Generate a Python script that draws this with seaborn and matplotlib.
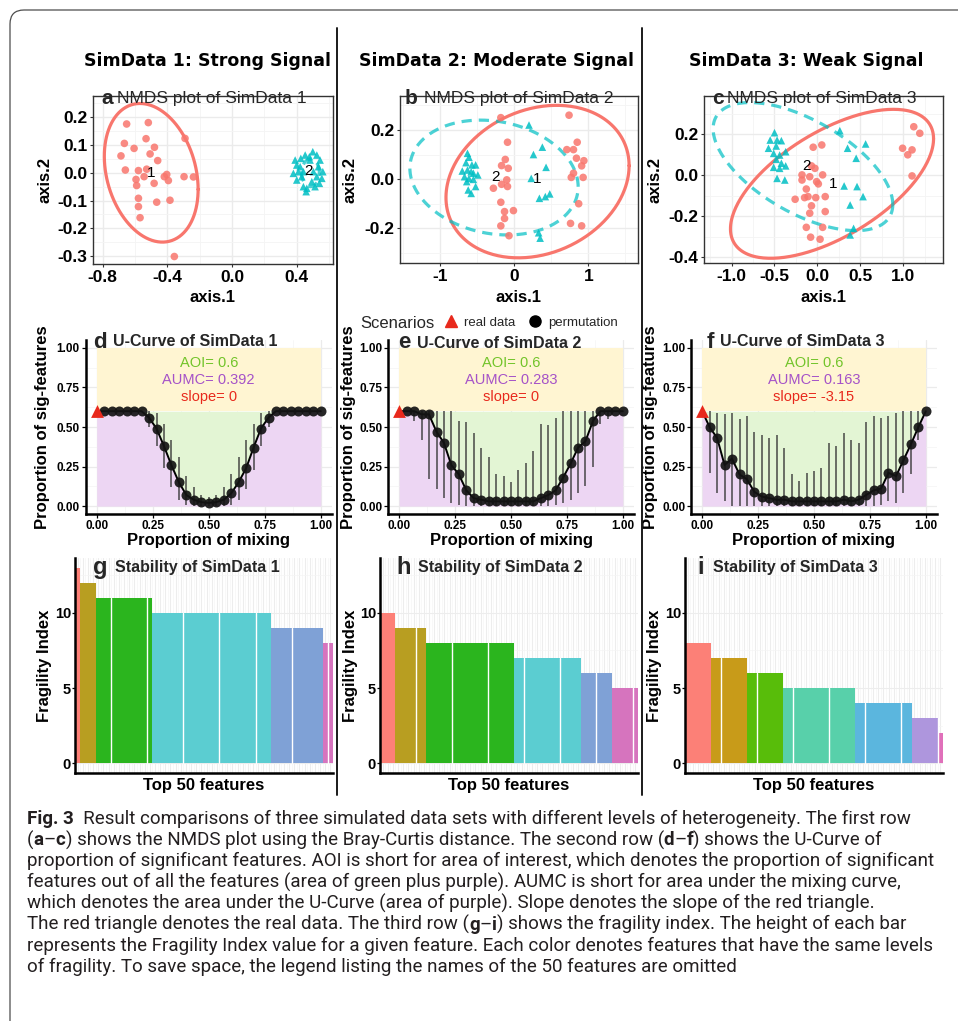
import numpy as np
import pandas as pd
import seaborn as sns
import matplotlib
matplotlib.use("Agg")
import matplotlib.pyplot as plt
from matplotlib.lines import Line2D
from matplotlib.patches import FancyBboxPatch
from matplotlib.ticker import AutoMinorLocator
from matplotlib import font_manager as fm

# ---------------------------------------------------------------- data
# Row 1: NMDS coordinates (group 1 = circles, group 2 = triangles)
A1_X = [-0.652, -0.518, -0.291, -0.666, -0.532, -0.606, -0.480, -0.507, -0.687, -0.460,
        -0.660, -0.579, -0.528, -0.544, -0.594, -0.404, -0.419, -0.394, -0.297, -0.239,
        -0.590, -0.482, -0.579, -0.466, -0.384, -0.579, -0.569, -0.357]
A1_Y = [0.176, 0.181, 0.124, 0.106, 0.123, 0.088, 0.092, 0.068, 0.061, 0.044,
        0.010, 0.008, 0.013, -0.014, -0.024, -0.006, -0.014, -0.028, -0.014, -0.015,
        -0.046, -0.038, -0.092, -0.106, -0.099, -0.122, -0.162, -0.302]
A2_X = [0.499, 0.452, 0.524, 0.425, 0.544, 0.400, 0.482, 0.410, 0.561, 0.379,
        0.431, 0.524, 0.400, 0.493, 0.555, 0.441, 0.462, 0.513, 0.458, 0.478,
        0.421, 0.534, 0.503, 0.441, 0.540, 0.390]
A2_Y = [0.076, 0.064, 0.064, 0.052, 0.046, 0.028, 0.046, 0.004, 0.004, -0.002,
        -0.014, -0.014, -0.026, -0.032, -0.020, -0.050, -0.056, -0.050, -0.068, 0.058,
        0.022, 0.022, 0.004, 0.004, -0.038, 0.046]
B1_X = [-0.18, 0.74, -0.09, 0.85, 0.71, 0.80, -0.12, -0.17, -0.08, 0.84, 0.94, 0.91, 0.80, 0.77,
        0.93, -0.10, -0.17, -0.09, -0.28, -0.18, -0.01, -0.13, -0.13, -0.18, 0.87, 0.76, 0.91, -0.07]
B1_Y = [0.25, 0.26, 0.15, 0.15, 0.12, 0.12, 0.08, 0.055, 0.044, 0.085, 0.075, 0.054, 0.024, 0.007,
        0.007, -0.003, -0.021, -0.03, -0.037, -0.094, -0.128, -0.132, -0.16, -0.19, -0.10, -0.18, -0.19, -0.23]
B2_X = [0.20, 0.38, 0.26, 0.43, -0.63, -0.61, -0.65, -0.57, -0.52, -0.70, -0.63, -0.58, -0.55, -0.49,
        -0.67, -0.61, -0.55, -0.64, -0.52, -0.62, -0.58, 0.23, 0.34, 0.42, 0.48, 0.33, 0.35]
B2_Y = [0.22, 0.13, 0.10, 0.048, 0.105, 0.089, 0.067, 0.058, 0.058, 0.033, 0.037, 0.03, 0.024, 0.017,
        0.01, 0.003, -0.001, -0.01, -0.03, -0.044, -0.058, 0.003, -0.078, -0.071, -0.06, -0.218, -0.24]
C1_X = [1.12, 1.19, 0.99, 1.10, 1.05, 1.10, -0.05, 0.05, -0.07, -0.03, -0.18, -0.18, -0.09, 0.06, -0.01,
        0.01, -0.13, -0.26, -0.15, -0.11, -0.02, 0.09, -0.07, -0.09, 0.09, -0.13, 0.06, -0.08, 0.03]
C1_Y = [0.237, 0.205, 0.132, 0.124, 0.10, -0.003, 0.137, 0.148, 0.046, 0.034, 0.002, -0.023, -0.007, 0.002,
        -0.031, -0.042, -0.067, -0.117, -0.109, -0.104, -0.109, -0.104, -0.149, -0.185, -0.177, -0.254,
        -0.254, -0.302, -0.312]
C2_X = [-0.50, -0.55, -0.47, -0.42, -0.57, -0.48, -0.37, -0.51, -0.44, -0.48, -0.42, -0.37, -0.51,
        -0.44, -0.47, -0.38, 0.26, 0.56, 0.35, 0.45, 0.31, 0.46, 0.53, 0.38, 0.42, 0.38]
C2_Y = [0.208, 0.172, 0.172, 0.169, 0.132, 0.143, 0.115, 0.107, 0.099, 0.078, 0.059, 0.046, 0.039,
        0.034, -0.015, -0.023, 0.218, 0.153, 0.132, 0.083, -0.052, -0.055, -0.104, -0.145, -0.259, -0.291]
# 95% ellipses: centre x, centre y, var x, var y, cov xy
ELL_A1 = [-0.500, 0.000, 0.0841, 0.0625, -0.0173]
ELL_A2 = [0.485, 0.000, 0.0030, 0.0025, 0.0]
ELL_B1 = [0.315, -0.010, 1.525, 0.0961, 0.080]
ELL_B2 = [-0.272, 0.0065, 1.288, 0.0545, -0.0426]
ELL_C1 = [0.169, -0.0415, 1.395, 0.1321, 0.2595]
ELL_C2 = [-0.169, 0.0425, 1.092, 0.0977, -0.193]

# Row 2: U-curves
MIX = [0.033, 0.067, 0.100, 0.133, 0.167, 0.200, 0.233, 0.267, 0.300, 0.333,
       0.367, 0.400, 0.433, 0.467, 0.500, 0.533, 0.567, 0.600, 0.633, 0.667,
       0.700, 0.733, 0.767, 0.800, 0.833, 0.867, 0.900, 0.933, 0.967, 1.000]
REAL_X = 0.0
AOI = [0.6, 0.6, 0.6]
AUMC = ["0.392", "0.283", "0.163"]
SLOPE = ["0", "0", "-3.15"]
D_Y = [0.6, 0.6, 0.6, 0.6, 0.6, 0.6, 0.56, 0.49, 0.38, 0.26, 0.15, 0.07, 0.04, 0.025, 0.02,
       0.025, 0.04, 0.08, 0.15, 0.24, 0.37, 0.49, 0.56, 0.6, 0.6, 0.6, 0.6, 0.6, 0.6, 0.6]
D_LO = [0.6, 0.6, 0.6, 0.6, 0.6, 0.6, 0.50, 0.38, 0.24, 0.12, 0.04, 0.01, 0.0, 0.0, 0.0,
        0.0, 0.0, 0.01, 0.04, 0.11, 0.23, 0.38, 0.50, 0.6, 0.6, 0.6, 0.6, 0.6, 0.6, 0.6]
D_HI = [0.6, 0.6, 0.6, 0.6, 0.6, 0.6, 0.60, 0.59, 0.52, 0.42, 0.31, 0.19, 0.12, 0.07, 0.06,
        0.07, 0.12, 0.20, 0.31, 0.42, 0.52, 0.59, 0.60, 0.6, 0.6, 0.6, 0.6, 0.6, 0.6, 0.6]
E_Y = [0.6, 0.6, 0.58, 0.58, 0.47, 0.40, 0.26, 0.20, 0.10, 0.05, 0.04, 0.03, 0.03, 0.03, 0.03,
       0.03, 0.03, 0.03, 0.05, 0.07, 0.10, 0.18, 0.27, 0.37, 0.41, 0.54, 0.6, 0.6, 0.6, 0.6]
E_LO = [0.6, 0.54, 0.42, 0.17, 0.11, 0.05, 0.02, 0.01, 0.0, 0.0, 0.0, 0.0, 0.0, 0.0, 0.0,
        0.0, 0.0, 0.0, 0.0, 0.0, 0.01, 0.02, 0.04, 0.08, 0.13, 0.25, 0.52, 0.55, 0.6, 0.6]
E_HI = [0.6, 0.6, 0.6, 0.6, 0.6, 0.6, 0.6, 0.54, 0.53, 0.46, 0.37, 0.31, 0.20, 0.19, 0.15,
        0.23, 0.27, 0.35, 0.52, 0.51, 0.56, 0.6, 0.6, 0.6, 0.6, 0.6, 0.6, 0.6, 0.6, 0.6]
F_Y = [0.50, 0.43, 0.26, 0.30, 0.20, 0.17, 0.09, 0.06, 0.05, 0.04, 0.04, 0.03, 0.03, 0.03, 0.03,
       0.03, 0.03, 0.03, 0.04, 0.03, 0.04, 0.07, 0.10, 0.11, 0.21, 0.19, 0.29, 0.39, 0.50, 0.60]
F_LO = [0.21, 0.08, 0.03, 0.0, 0.0, 0.0, 0.0, 0.0, 0.0, 0.0, 0.0, 0.0, 0.0, 0.0, 0.0,
        0.0, 0.0, 0.0, 0.0, 0.0, 0.0, 0.0, 0.0, 0.01, 0.03, 0.02, 0.08, 0.20, 0.42, 0.6]
F_HI = [0.6, 0.59, 0.58, 0.59, 0.55, 0.57, 0.47, 0.45, 0.43, 0.45, 0.37, 0.20, 0.16, 0.21, 0.22,
        0.24, 0.40, 0.38, 0.46, 0.42, 0.40, 0.53, 0.57, 0.56, 0.57, 0.59, 0.6, 0.6, 0.6, 0.6]

# Row 3: fragility index levels and how many of the top 50 features have each
G_FI = [13, 12, 11, 10, 9, 8]
G_N = [1, 3, 11, 23, 10, 2]
H_FI = [10, 9, 8, 7, 6, 5]
H_N = [3, 6, 17, 13, 6, 5]
I_FI = [8, 7, 6, 5, 4, 3, 2]
I_N = [5, 7, 7, 14, 11, 5, 1]

HEADERS = ["SimData 1: Strong Signal", "SimData 2: Moderate Signal", "SimData 3: Weak Signal"]

CAPTION = [
    [("Fig. 3", True), ("  Result comparisons of three simulated data sets with different levels of heterogeneity. The first row", False)],
    [("(", False), ("a", True), ("\u2013", False), ("c", True),
     (") shows the NMDS plot using the Bray-Curtis distance. The second row (", False),
     ("d", True), ("\u2013", False), ("f", True), (") shows the U-Curve of", False)],
    [("proportion of significant features. AOI is short for area of interest, which denotes the proportion of significant", False)],
    [("features out of all the features (area of green plus purple). AUMC is short for area under the mixing curve,", False)],
    [("which denotes the area under the U-Curve (area of purple). Slope denotes the slope of the red triangle.", False)],
    [("The red triangle denotes the real data. The third row (", False), ("g", True), ("\u2013", False), ("i", True),
     (") shows the fragility index. The height of each bar", False)],
    [("represents the Fragility Index value for a given feature. Each color denotes features that have the same levels", False)],
    [("of fragility. To save space, the legend listing the names of the 50 features are omitted", False)],
]
# right end (px) of each caption line in the reference, used only to size the font
CAP_ENDS = [922, 892, 947, 903, 898, 919, 942, 740]

# ---------------------------------------------------------------- style
RED = "#F8766D"
CYAN = "#00BFC4"
YELLOW = "#FFF5D2"
GREEN = "#E3F5D4"
PURPLE = "#EDD6F3"
PAL6 = ["#FD8077", "#B89E21", "#2BB51E", "#5BCDD1", "#7FA1D6", "#D674BE"]
PAL7 = ["#FC8077", "#C89B19", "#58BD0A", "#58D0AA", "#5BB6DE", "#AE96DD", "#E070BA"]

sns.set_theme(style="white")
plt.rcParams["font.family"] = ["Liberation Sans", "DejaVu Sans"]
plt.rcParams["axes.unicode_minus"] = False

W, H = 958, 1021
fig = plt.figure(figsize=(W / 100, H / 100), dpi=100)
fig.patch.set_facecolor("white")


def add_ax(l, t, r, b):
    return fig.add_axes([l / W, 1 - b / H, (r - l) / W, (b - t) / H])


def ftext(x, y, s, **kw):
    return fig.text(x / W, 1 - y / H, s, **kw)


def place_labels(ax, box, xlab, ylab, xy, yx, size):
    l, t, r, b = box
    ax.set_xlabel(xlab, fontsize=size, fontweight="bold", color="black")
    ax.set_ylabel(ylab, fontsize=size, fontweight="bold", color="black")
    ax.xaxis.set_label_coords(0.5, (b - xy) / (b - t))
    ax.yaxis.set_label_coords((yx - l) / (r - l), 0.5)
    ax.xaxis.label.set_va("center")
    ax.yaxis.label.set_va("center")
    ax.yaxis.label.set_ha("center")


T = np.linspace(0, 2 * np.pi, 300)


def ellipse_xy(p):
    cx, cy, vx, vy, cxy = p
    L = np.linalg.cholesky(np.array([[vx, cxy], [cxy, vy]]))
    v = L @ np.vstack([np.cos(T), np.sin(T)])
    return cx + v[0], cy + v[1]


# ---------------------------------------------------------------- row 1
def nmds(box, x1, y1, x2, y2, e1, e2, xlim, ylim, xt, xtl, yt, ytl, ylab_x):
    ax = add_ax(*box)
    df = pd.DataFrame({"axis.1": list(x1) + list(x2), "axis.2": list(y1) + list(y2),
                       "Group": ["1"] * len(x1) + ["2"] * len(x2)})
    ex, ey = ellipse_xy(e1)
    ax.plot(ex, ey, color=RED, lw=2.3, zorder=2)
    ex, ey = ellipse_xy(e2)
    ax.plot(ex, ey, color=CYAN, lw=2.3, ls=(0, (3.2, 2.2)), alpha=0.7, zorder=2)
    sns.scatterplot(data=df, x="axis.1", y="axis.2", hue="Group", style="Group",
                    markers={"1": "o", "2": "^"}, palette={"1": RED, "2": CYAN},
                    s=30, alpha=0.85, linewidth=0, legend=False, ax=ax, zorder=3)
    for g, gx, gy in (("1", x1, y1), ("2", x2, y2)):
        ax.text(np.mean(gx), np.mean(gy), g, fontsize=11, ha="center", va="center",
                color="black", zorder=4)
    ax.set_xlim(*xlim)
    ax.set_ylim(*ylim)
    ax.set_xticks(xt, labels=xtl, fontsize=12.5, fontweight="bold")
    ax.set_yticks(yt, labels=ytl, fontsize=12.5, fontweight="bold")
    ax.xaxis.set_minor_locator(AutoMinorLocator(2))
    ax.yaxis.set_minor_locator(AutoMinorLocator(2))
    ax.set_facecolor("white")
    for s in ax.spines.values():
        s.set_visible(True)
        s.set_color("#333333")
        s.set_linewidth(1.0)
    ax.grid(True, which="major", color="#EBEBEB", lw=1.0)
    ax.grid(True, which="minor", color="#F4F4F4", lw=0.6)
    ax.set_axisbelow(True)
    ax.tick_params(which="major", direction="out", length=2.5, width=0.8, color="#333333",
                   bottom=True, left=True, pad=1.5, labelcolor="black")
    ax.tick_params(which="minor", length=0)
    place_labels(ax, box, "axis.1", "axis.2", 297, ylab_x, 12)
    return ax


nmds((93, 96, 333, 264), A1_X, A1_Y, A2_X, A2_Y, ELL_A1, ELL_A2, (-0.86, 0.624), (-0.329, 0.277),
     [-0.8, -0.4, 0.0, 0.4], ["-0.8", "-0.4", "0.0", "0.4"],
     [0.2, 0.1, 0.0, -0.1, -0.2, -0.3], ["0.2", "0.1", "0.0", "-0.1", "-0.2", "-0.3"], 45)
nmds((400, 96, 638, 263), B1_X, B1_Y, B2_X, B2_Y, ELL_B1, ELL_B2, (-1.54, 1.67), (-0.341, 0.338),
     [-1, 0, 1], ["-1", "0", "1"], [0.2, 0.0, -0.2], ["0.2", "0.0", "-0.2"], 350)
nmds((704, 96, 943, 263), C1_X, C1_Y, C2_X, C2_Y, ELL_C1, ELL_C2, (-1.32, 1.46), (-0.428, 0.387),
     [-1.0, -0.5, 0.0, 0.5, 1.0], ["-1.0", "-0.5", "0.0", "0.5", "1.0"],
     [0.2, 0.0, -0.2, -0.4], ["0.2", "0.0", "-0.2", "-0.4"], 655)

for cx, txt in zip((207, 497, 806), HEADERS):
    ftext(cx, 61, txt, fontsize=12.5, fontweight="bold", family=["DejaVu Sans"],
          ha="center", va="center", color="black")

for xl, xt_, letter, n in ((101, 117, "a", 1), (405, 424, "b", 2), (712, 727, "c", 3)):
    ftext(xl, 99, letter, fontsize=15, fontweight="bold", ha="left", va="center")
    ftext(xt_, 99, f"NMDS plot of SimData {n}", fontsize=12.5, ha="left", va="center")


# ---------------------------------------------------------------- row 2
def ucurve(box, ys, lo, hi, aoi, aumc, slope, ylab_x):
    ax = add_ax(*box)
    xs_all = [REAL_X] + MIX
    ys_all = [aoi] + ys
    ax.fill_between([0.0, 1.0], [aoi, aoi], [1.0, 1.0], color=YELLOW, lw=0, zorder=1)
    ax.fill_between(xs_all, ys_all, aoi, color=GREEN, lw=0, zorder=1)
    ax.fill_between(xs_all, 0, ys_all, color=PURPLE, lw=0, zorder=1)
    ax.vlines(MIX, lo, hi, colors="#3A3A3A", lw=1.2, alpha=0.85, zorder=2.5)
    sns.lineplot(x=xs_all, y=ys_all, color="black", lw=1.4, ax=ax, zorder=3)
    sns.scatterplot(x=MIX, y=ys, color="#141414", s=52, linewidth=0, alpha=0.92, ax=ax, zorder=4)
    sns.scatterplot(x=[REAL_X], y=[aoi], marker="^", color="#E8291C", s=85, linewidth=0, ax=ax, zorder=5)
    ax.text(0.5, 0.905, f"AOI= {aoi}", color="#72C42A", fontsize=10.5, ha="center", va="center", zorder=6)
    ax.text(0.5, 0.80, f"AUMC= {aumc}", color="#A552C8", fontsize=10.5, ha="center", va="center", zorder=6)
    ax.text(0.5, 0.69, f"slope= {slope}", color="#E8291C", fontsize=10.5, ha="center", va="center", zorder=6)
    ax.set_xlim(-0.05, 1.05)
    ax.set_ylim(-0.05, 1.05)
    tk = [0.0, 0.25, 0.5, 0.75, 1.0]
    tl = ["0.00", "0.25", "0.50", "0.75", "1.00"]
    ax.set_xticks(tk, labels=tl, fontsize=8.5, fontweight="bold")
    ax.set_yticks(tk, labels=tl, fontsize=8.5, fontweight="bold")
    ax.xaxis.set_minor_locator(AutoMinorLocator(2))
    ax.yaxis.set_minor_locator(AutoMinorLocator(2))
    ax.set_facecolor("white")
    for s in ("top", "right"):
        ax.spines[s].set_visible(False)
    for s in ("left", "bottom"):
        ax.spines[s].set_visible(True)
        ax.spines[s].set_color("black")
        ax.spines[s].set_linewidth(1.8)
    ax.grid(True, which="major", color="#EBEBEB", lw=0.9)
    ax.grid(True, which="minor", color="#F4F4F4", lw=0.5)
    ax.set_axisbelow(True)
    ax.tick_params(which="major", direction="out", length=3, width=0.9, color="black",
                   bottom=True, left=True, pad=1.2, labelcolor="black")
    ax.tick_params(which="minor", length=0)
    place_labels(ax, box, "Proportion of mixing", "Proportion of sig-features", 540, ylab_x, 12)
    return ax


ucurve((85.5, 340, 332, 514), D_Y, D_LO, D_HI, AOI[0], AUMC[0], SLOPE[0], 43)
ucurve((388, 340, 634, 514), E_Y, E_LO, E_HI, AOI[1], AUMC[1], SLOPE[1], 348)
ucurve((691, 340, 937, 514), F_Y, F_LO, F_HI, AOI[2], AUMC[2], SLOPE[2], 650)

for xl, xt_, y, letter, n in ((93, 113, 342, "d", 1), (398, 417, 343, "e", 2), (707, 720, 342, "f", 3)):
    ftext(xl, y, letter, fontsize=16, fontweight="bold", ha="left", va="center")
    ftext(xt_, y, f"U-Curve of SimData {n}", fontsize=11.5, fontweight="bold", ha="left", va="center")

ftext(360, 323, "Scenarios", fontsize=12, ha="left", va="center")
handles = [Line2D([], [], marker="^", ls="", color="#E8291C", ms=9),
           Line2D([], [], marker="o", ls="", color="black", ms=8)]
fig.legend(handles, ["real data", "permutation"], loc="center left",
           bbox_to_anchor=(444.5 / W, 1 - 323 / H), ncol=2, frameon=False, fontsize=9.5,
           handlelength=1.0, handletextpad=0.5, columnspacing=1.0, borderaxespad=0, borderpad=0)


# ---------------------------------------------------------------- row 3
def fragility(box, fi_levels, counts, pal, ylab_x):
    ax = add_ax(*box)
    fi = np.repeat(fi_levels, counts)
    df = pd.DataFrame({"feature": [f"F{i + 1:02d}" for i in range(len(fi))],
                       "FI": fi, "level": [str(v) for v in fi]})
    order = [str(v) for v in fi_levels]
    sns.barplot(data=df, x="feature", y="FI", hue="level", hue_order=order,
                palette=dict(zip(order, pal)), dodge=False, width=1.0, saturation=1,
                linewidth=0, legend=False, ax=ax, zorder=2)
    bars = sorted(ax.patches, key=lambda p: p.get_x())
    for i, p in enumerate(bars):
        if (i + 1) % 7 == 0 and i < len(bars) - 1:
            xr = p.get_x() + p.get_width()
            ax.plot([xr, xr], [0, p.get_height()], color="white", lw=1.0, zorder=3)
    ax.set_xlim(-0.5, len(fi) - 0.5)
    ax.set_ylim(-0.65, 13.65)
    ax.set_xticks(range(len(fi)), labels=[""] * len(fi))
    ax.set_yticks([0, 5, 10], labels=["0", "5", "10"], fontsize=10.5, fontweight="bold")
    ax.xaxis.set_minor_locator(AutoMinorLocator(2))
    ax.yaxis.set_minor_locator(AutoMinorLocator(2))
    ax.set_facecolor("white")
    for s in ("top", "right"):
        ax.spines[s].set_visible(False)
    for s in ("left", "bottom"):
        ax.spines[s].set_visible(True)
        ax.spines[s].set_color("black")
        ax.spines[s].set_linewidth(1.8)
    ax.grid(True, which="major", color="#EDEDED", lw=0.8)
    ax.grid(True, which="minor", color="#F5F5F5", lw=0.5)
    ax.set_axisbelow(True)
    ax.tick_params(axis="x", which="both", length=0)
    ax.tick_params(axis="y", which="major", direction="out", length=2, width=0.9, color="black",
                   left=True, pad=0.8, labelcolor="black")
    ax.tick_params(axis="y", which="minor", length=0)
    place_labels(ax, box, "Top 50 features", "Fragility Index", 785, ylab_x, 12)
    return ax


fragility((75, 558, 333, 773), G_FI, G_N, PAL6, 45)
fragility((380, 558, 637.7, 773), H_FI, H_N, PAL6, 350)
fragility((685, 558, 942.7, 773), I_FI, I_N, PAL7, 655)

for xl, xt_, letter, n in ((93, 115, "g", 1), (396, 418, "h", 2), (697, 713, "i", 3)):
    ftext(xl, 567, letter, fontsize=17, fontweight="bold", ha="left", va="center")
    ftext(xt_, 567, f"Stability of SimData {n}", fontsize=11.5, fontweight="bold", ha="left", va="center")

# ---------------------------------------------------------------- frame and dividers
fig.patches.append(FancyBboxPatch((10 / 100, -1.0), 20, (H - 10) / 100 + 1.0,
                                  boxstyle="round,pad=0,rounding_size=0.14",
                                  transform=fig.dpi_scale_trans, fill=False,
                                  ec="#4D4D4D", lw=0.9))
for xd in (336.5, 642):
    fig.add_artist(Line2D([xd / W, xd / W], [1 - 28 / H, 1 - 795 / H], color="#1A1A1A", lw=1.4))

# ---------------------------------------------------------------- caption
CAP_FAMILY = "Liberation Sans"
for cand in ("Liberation Sans Narrow", "Roboto"):
    try:
        fm.findfont(fm.FontProperties(family=cand), fallback_to_default=False)
        CAP_FAMILY = cand
        break
    except Exception:
        pass

renderer = fig.canvas.get_renderer()


def line_width(segs, size):
    w = 0
    for txt, bold in segs:
        t = fig.text(0, 0, txt, fontsize=size, family=CAP_FAMILY,
                     fontweight="bold" if bold else "normal")
        w += t.get_window_extent(renderer=renderer).width
        t.remove()
    return w


cap_size = min(10 * (end - 27) / line_width(segs, 10) for segs, end in zip(CAPTION, CAP_ENDS))

for i, segs in enumerate(CAPTION):
    x = 27
    y = 819 + 21.1 * i
    for txt, bold in segs:
        t = ftext(x, y, txt, fontsize=cap_size, family=CAP_FAMILY,
                  fontweight="bold" if bold else "normal", ha="left", va="center", color="#231F20")
        x += t.get_window_extent(renderer=renderer).width

fig.savefig("out.png", dpi=100)
